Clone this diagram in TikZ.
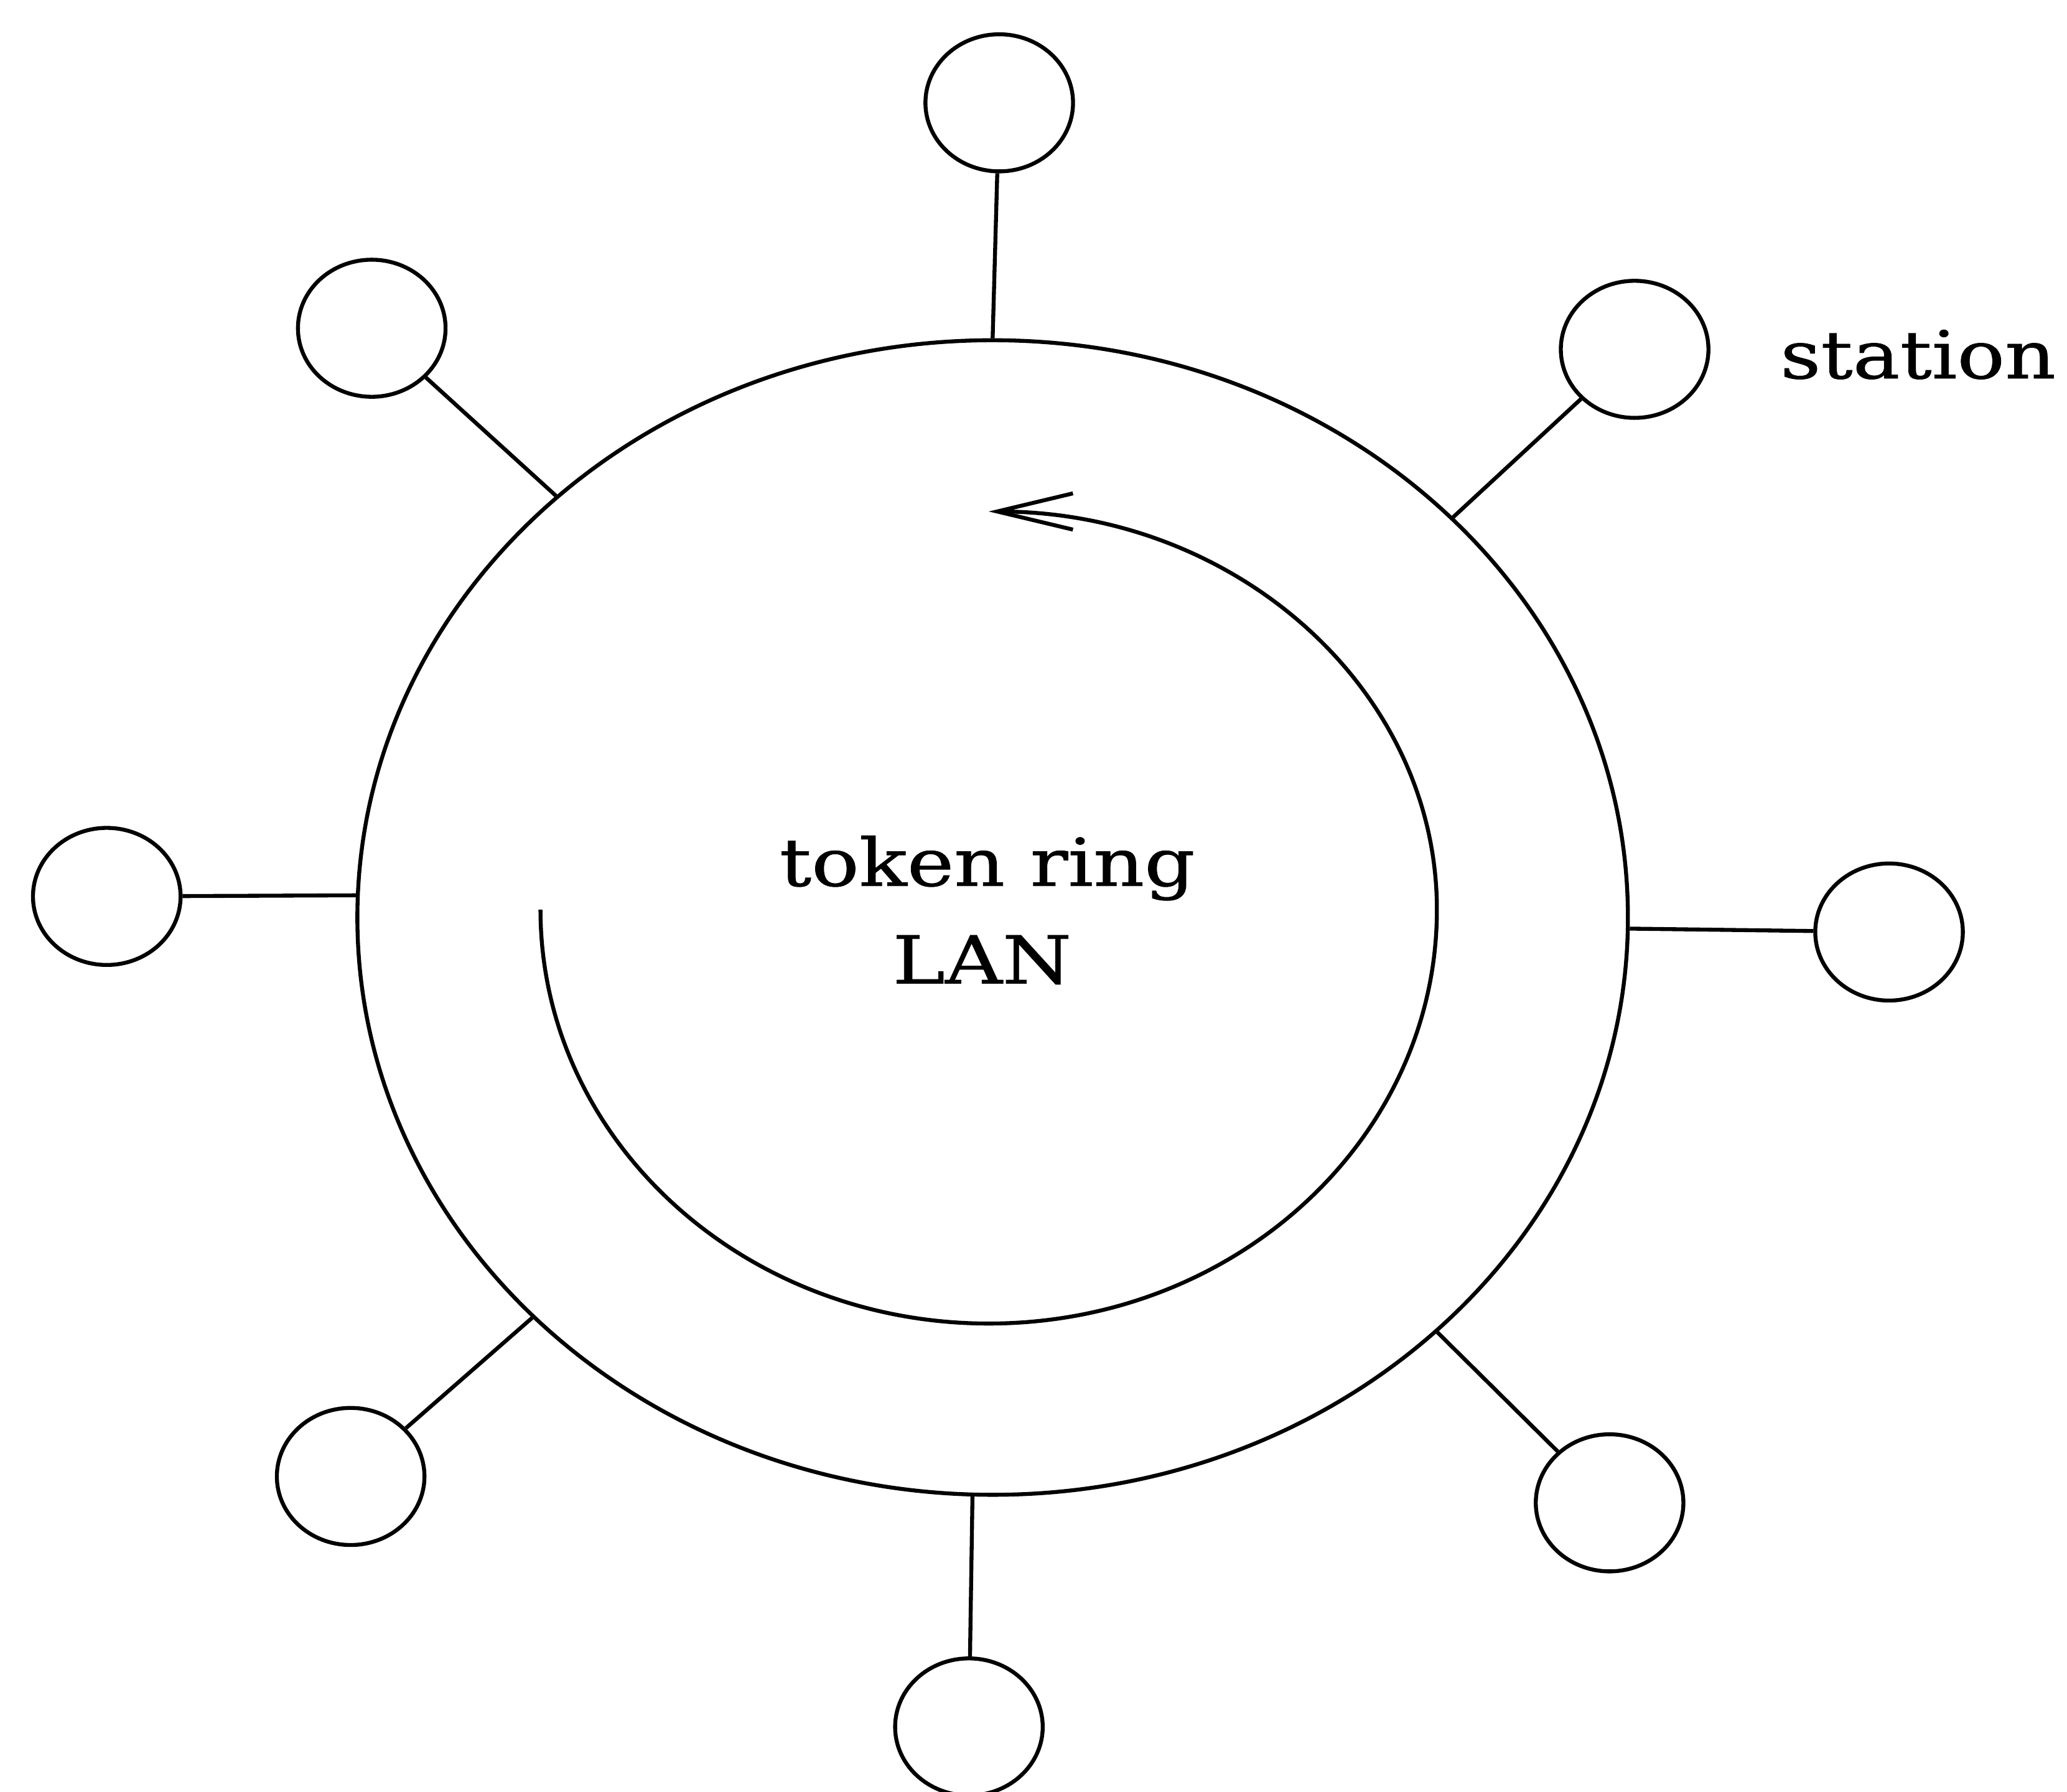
\documentclass[tikz,border=0pt]{standalone}
\usepackage{fontspec}
\newfontfamily\lblfont[FakeStretch=1.2,FakeBold=0.8]{DejaVu Serif}
\usetikzlibrary{shapes.geometric,arrows.meta}
\begin{document}
\begin{tikzpicture}[x=0.02cm,y=-0.02cm,
  line width=1.7pt,
  stationnode/.style={draw,ellipse,minimum width=2.24cm,minimum height=2.08cm,inner sep=0pt},
  ringnode/.style={draw,ellipse,minimum width=19.28cm,minimum height=17.52cm,inner sep=0pt},
  link/.style={line width=1.7pt},
  flow/.style={line width=1.7pt,-{Straight Barb[length=1.15cm,width=0.55cm]}},
  lbl/.style={font=\lblfont\fontsize{28.5}{34}\selectfont,inner sep=0pt}]
\path[use as bounding box] (0,0) rectangle (1568,1359);
\node[ringnode] (ring) at (753,696) {};
\node[stationnode] (s1) at (758,78) {};
\node[stationnode] (s2) at (1240,265) {};
\node[stationnode] (s3) at (1433,707) {};
\node[stationnode] (s4) at (1221,1140) {};
\node[stationnode] (s5) at (735,1310) {};
\node[stationnode] (s6) at (266,1120) {};
\node[stationnode] (s7) at (81,680) {};
\node[stationnode] (s8) at (282,249) {};
\draw[link] (s1) -- (ring.90);
\draw[link] (s2) -- (ring.41.4);
\draw[link] (s3) -- (ring.-1.2);
\draw[link] (s4) -- (ring.-43.9);
\draw[link] (s5) -- (ring.-92.1);
\draw[link] (s6) -- (ring.-139.3);
\draw[link] (s7) -- (ring.178.7);
\draw[link] (s8) -- (ring.136.8);
\node[lbl,anchor=base] (t1) at (749,672) {token ring};
\node[lbl,anchor=base] (t2) at (745,746) {LAN};
\node[lbl,anchor=base] (st) at (1455,287) {station};
\coordinate (fstart) at (410,690);
\draw[flow] (fstart) arc[start angle=180,end angle=0,x radius=340,y radius=314]
  arc[start angle=0,end angle=-90,x radius=340,y radius=302] coordinate (fend);
\end{tikzpicture}
\end{document}
